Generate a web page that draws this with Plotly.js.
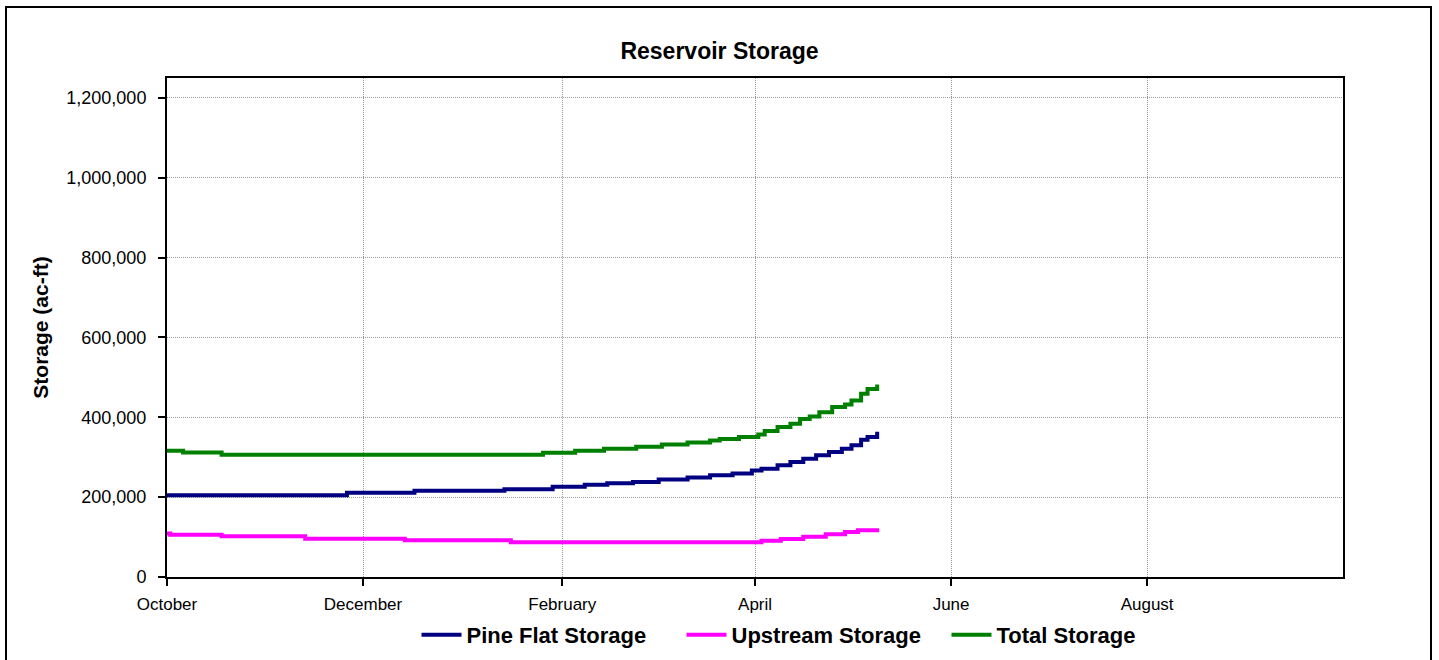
<!DOCTYPE html>
<html>
<head>
<meta charset="utf-8">
<script src="https://cdn.plot.ly/plotly-3.0.1.min.js"></script>
<style>
  html, body { margin: 0; padding: 0; background: #fff; }
  #chart { width: 1439px; height: 660px; }
</style>
</head>
<body>
<div id="chart"></div>
<script>
// ---- Data ----
const pineFlatDates = ["2007-10-01","2007-11-26","2007-12-17","2008-01-14","2008-01-29","2008-02-08","2008-02-15","2008-02-23","2008-03-02","2008-03-11","2008-03-18","2008-03-25","2008-03-31","2008-04-03","2008-04-08","2008-04-12","2008-04-16","2008-04-20","2008-04-24","2008-04-28","2008-05-01","2008-05-04","2008-05-06","2008-05-09"];
const pineFlatStorage = [205000,211000,216000,220000,226000,231000,235000,238000,244000,249000,255000,259000,267000,271000,280000,288000,296000,305000,313000,321000,330000,344000,351000,364000];

const upstreamDates = ["2007-10-01","2007-10-02","2007-10-18","2007-11-13","2007-12-14","2008-01-16","2008-04-03","2008-04-09","2008-04-16","2008-04-23","2008-04-29","2008-05-03","2008-05-09"];
const upstreamStorage = [109000,106000,102000,96000,92000,87000,91000,95000,101000,107000,113000,117000,122000];

const totalDates = ["2007-10-01","2007-10-06","2007-10-18","2008-01-26","2008-02-05","2008-02-14","2008-02-24","2008-03-03","2008-03-11","2008-03-18","2008-03-21","2008-03-27","2008-04-02","2008-04-04","2008-04-08","2008-04-12","2008-04-15","2008-04-18","2008-04-21","2008-04-25","2008-04-29","2008-05-01","2008-05-04","2008-05-06","2008-05-09"];
const totalStorage = [316000,312000,306000,311000,316000,321000,326000,332000,337000,342000,346000,351000,357000,366000,376000,384000,396000,402000,413000,426000,432000,442000,459000,471000,482000];

const seriesNames = ["Pine Flat Storage","Upstream Storage","Total Storage"];
const xRange = ["2007-10-01","2008-09-30 23:00"];
const yRange = [0, 1250000];

const FONT = "Liberation Sans, Arial, sans-serif";

const traces = [
  {x: pineFlatDates, y: pineFlatStorage, name: seriesNames[0], color: "#000080"},
  {x: upstreamDates, y: upstreamStorage, name: seriesNames[1], color: "#FF00FF"},
  {x: totalDates, y: totalStorage, name: seriesNames[2], color: "#008000"}
].map(s => ({
  type: "scatter", mode: "lines", x: s.x, y: s.y, name: "<b>" + s.name + "</b>",
  line: {color: s.color, width: 4, shape: "hv"},
  hoverinfo: "x+y+name"
}));

const layout = {
  width: 1439, height: 660,
  paper_bgcolor: "#fff", plot_bgcolor: "#fff",
  margin: {l: 167, r: 96, t: 78, b: 83},
  font: {family: FONT, color: "#000"},
  title: {
    text: "<b>Reservoir Storage</b>",
    font: {family: FONT, size: 23, color: "#000"},
    xref: "container", x: 0.5, xanchor: "center",
    yref: "container", y: 1 - 51/660, yanchor: "middle"
  },
  xaxis: {
    type: "date", range: xRange,
    tick0: "2007-10-01", dtick: "M2", tickformat: "%B",
    ticks: "outside", ticklen: 7, tickwidth: 1.5, tickcolor: "#000",
    ticklabelstandoff: 4,
    tickfont: {family: FONT, size: 17, color: "#000"},
    showgrid: true, gridcolor: "#999999", gridwidth: 1, griddash: "1px,1px",
    showline: true, linecolor: "#000", linewidth: 2, mirror: true,
    zeroline: false, fixedrange: true, automargin: false
  },
  yaxis: {
    range: yRange, dtick: 200000, tick0: 0, tickformat: ",d",
    ticks: "outside", ticklen: 7, tickwidth: 1.5, tickcolor: "#000",
    ticklabelstandoff: 8,
    tickfont: {family: FONT, size: 18, color: "#000"},
    showgrid: true, gridcolor: "#999999", gridwidth: 1, griddash: "1px,1px",
    showline: true, linecolor: "#000", linewidth: 2, mirror: true,
    zeroline: false, fixedrange: true, automargin: false,
    title: {text: "<b>Storage (ac-ft)</b>", font: {family: FONT, size: 21, color: "#000"}, standoff: 12}
  },
  showlegend: true,
  legend: {
    orientation: "h",
    xref: "container", x: 814 / 1439, xanchor: "center",
    yref: "container", y: 1 - 635 / 660, yanchor: "middle",
    font: {family: FONT, size: 22, color: "#000"},
    bgcolor: "rgba(0,0,0,0)", itemwidth: 40, traceorder: "normal",
    entrywidth: 210, entrywidthmode: "pixels"
  },
  shapes: [{
    type: "rect", xref: "paper", yref: "paper",
    x0: (6 - 167) / 1176, x1: (1431 - 167) / 1176,
    y0: (577 - 700) / 499, y1: (577 - 7) / 499,
    line: {color: "#000", width: 2}, fillcolor: "rgba(0,0,0,0)", layer: "below"
  }]
};

Plotly.newPlot("chart", traces, layout, {displayModeBar: false, responsive: false});
</script>
</body>
</html>
